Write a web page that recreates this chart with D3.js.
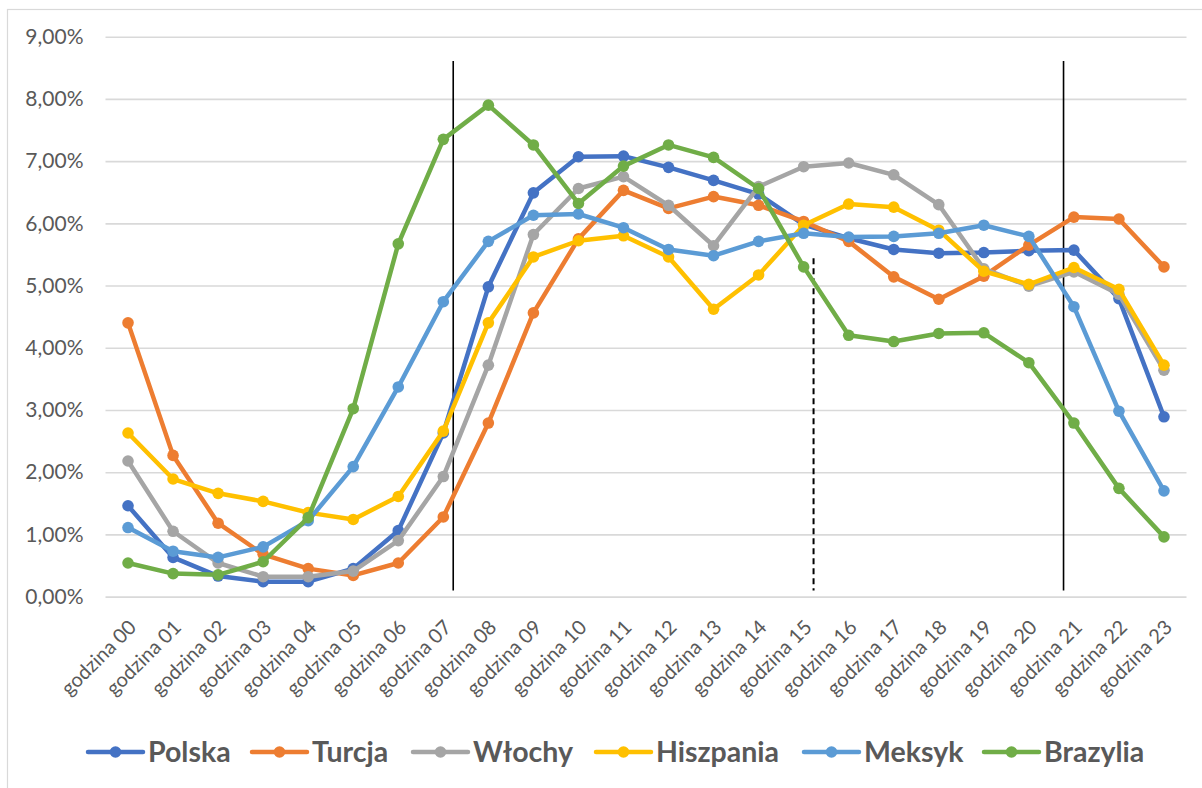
<!DOCTYPE html>
<html>
<head>
<meta charset="utf-8">
<script src="https://cdn.jsdelivr.net/npm/d3@7"></script>
<style>
  html, body { margin: 0; padding: 0; background: #fff; }
  svg { display: block; }
  text { font-family: Lato, "Open Sans", sans-serif; }
</style>
</head>
<body>
<svg id="chart" width="1202" height="788"></svg>
<script>
// ---------- data ----------
const categories = ["godzina 00","godzina 01","godzina 02","godzina 03","godzina 04","godzina 05",
  "godzina 06","godzina 07","godzina 08","godzina 09","godzina 10","godzina 11",
  "godzina 12","godzina 13","godzina 14","godzina 15","godzina 16","godzina 17",
  "godzina 18","godzina 19","godzina 20","godzina 21","godzina 22","godzina 23"];

const seriesNames = ["Polska","Turcja","Włochy","Hiszpania","Meksyk","Brazylia"];
const seriesColors = ["#4472C4","#ED7D31","#A5A5A5","#FFC000","#5B9BD5","#70AD47"];

const polska    = [1.46,0.63,0.33,0.24,0.24,0.45,1.06,2.63,4.98,6.49,7.07,7.08,6.90,6.69,6.47,5.98,5.76,5.58,5.52,5.53,5.56,5.57,4.79,2.89];
const turcja    = [4.40,2.27,1.18,0.68,0.45,0.34,0.54,1.28,2.79,4.56,5.75,6.53,6.24,6.43,6.29,6.03,5.71,5.14,4.78,5.15,5.65,6.10,6.07,5.30];
const wlochy    = [2.18,1.05,0.54,0.32,0.32,0.41,0.90,1.93,3.72,5.82,6.56,6.75,6.29,5.64,6.59,6.91,6.97,6.78,6.30,5.27,4.99,5.22,4.86,3.64];
const hiszpania = [2.63,1.89,1.66,1.53,1.35,1.24,1.61,2.66,4.40,5.46,5.72,5.80,5.46,4.62,5.17,5.97,6.31,6.26,5.89,5.23,5.02,5.29,4.94,3.72];
const meksyk    = [1.11,0.73,0.63,0.80,1.22,2.09,3.37,4.74,5.71,6.13,6.15,5.93,5.58,5.48,5.71,5.84,5.78,5.79,5.84,5.97,5.79,4.66,2.98,1.70];
const brazylia  = [0.54,0.37,0.35,0.56,1.27,3.02,5.67,7.35,7.90,7.26,6.32,6.92,7.26,7.06,6.56,5.30,4.20,4.10,4.23,4.24,3.76,2.79,1.74,0.96];
const seriesValues = [polska, turcja, wlochy, hiszpania, meksyk, brazylia];

const yTicks = [0,1,2,3,4,5,6,7,8,9];

// vertical marker lines: category position (fractional index), top value, dashed?
const markerPos  = [7.22, 15.22, 20.77];
const markerTop  = [8.61, 5.44, 8.61];
const markerDash = [false, true, false];

// ---------- layout ----------
const svg = d3.select("#chart");
const plot = { left: 105.5, right: 1186.5, top: 36.7, bottom: 596.6 };

const x = d3.scaleLinear().domain([-0.5, categories.length - 0.5]).range([plot.left, plot.right]);
const y = d3.scaleLinear().domain([0, 9]).range([plot.bottom, plot.top]);

// chart area border
svg.append("rect")
  .attr("x", 7.5).attr("y", 9.5).attr("width", 1210).attr("height", 800)
  .attr("fill", "#fff").attr("stroke", "#d9d9d9").attr("stroke-width", 1.2);

// gridlines + y labels
const yAxis = d3.axisLeft(y).tickValues(yTicks)
  .tickSize(-(plot.right - plot.left))
  .tickPadding(22)
  .tickFormat(d => d.toFixed(2).replace(".", ",") + "%");
const gy = svg.append("g").attr("transform", `translate(${plot.left},0)`).call(yAxis);
gy.select(".domain").remove();
gy.selectAll(".tick line").attr("stroke", "#d9d9d9").attr("stroke-width", 1.6);
gy.selectAll(".tick text").attr("fill", "#595959").attr("font-size", 21);

// x labels
const xAxis = d3.axisBottom(x).tickValues(d3.range(categories.length))
  .tickSize(0).tickFormat(i => categories[i]);
const gx = svg.append("g").attr("transform", `translate(0,${plot.bottom})`).call(xAxis);
gx.select(".domain").remove();
gx.selectAll(".tick text")
  .attr("fill", "#595959").attr("font-size", 20)
  .attr("text-anchor", "end")
  .attr("dy", "0.35em")
  .attr("transform", "translate(4,27) rotate(-45)")
  .attr("x", 0).attr("y", 0);

// vertical marker lines
markerPos.forEach((p, i) => {
  svg.append("line")
    .attr("x1", x(p)).attr("x2", x(p))
    .attr("y1", y(markerTop[i])).attr("y2", y(0.1))
    .attr("stroke", "#000").attr("stroke-width", markerDash[i] ? 2 : 1.6)
    .attr("stroke-dasharray", markerDash[i] ? "6,4" : null);
});

// series
const line = d3.line().x((d, i) => x(i)).y(d => y(d));
seriesValues.forEach((vals, s) => {
  const g = svg.append("g");
  g.append("path").datum(vals)
    .attr("d", line).attr("fill", "none")
    .attr("stroke", seriesColors[s]).attr("stroke-width", 4.5)
    .attr("stroke-linejoin", "round").attr("stroke-linecap", "round");
  g.selectAll("circle").data(vals).join("circle")
    .attr("cx", (d, i) => x(i)).attr("cy", d => y(d)).attr("r", 5.8)
    .attr("fill", seriesColors[s]);
});

// legend
const legendX = [88, 252, 413, 596, 804, 984];
const legendY = 752;
seriesNames.forEach((name, s) => {
  const g = svg.append("g").attr("transform", `translate(${legendX[s]},${legendY})`);
  g.append("line").attr("x1", 0).attr("x2", 55).attr("y1", 0).attr("y2", 0)
    .attr("stroke", seriesColors[s]).attr("stroke-width", 4.5).attr("stroke-linecap", "round");
  g.append("circle").attr("cx", 27.5).attr("cy", 0).attr("r", 5.8).attr("fill", seriesColors[s]);
  g.append("text").attr("x", 60).attr("y", 0).attr("dy", "0.36em")
    .attr("fill", "#595959").attr("font-size", 28.5).attr("font-weight", "bold")
    .text(name);
});
</script>
</body>
</html>
